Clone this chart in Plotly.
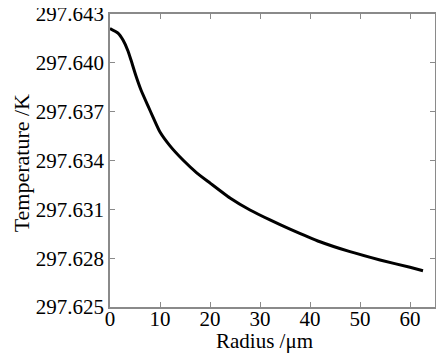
import plotly.graph_objects as go

radius_um = [0, 1.6, 2.6, 3.6, 4.2, 5.2, 6.2, 7.6, 8.6, 10, 12, 14.6, 17.4, 20, 24, 28, 32,
             36, 42, 48, 54, 60, 62.6]
temperature_K = [297.64211, 297.64183, 297.64140, 297.64073, 297.64017, 297.63919, 297.63833,
                 297.63735, 297.63667, 297.63575, 297.63490, 297.63403, 297.63323, 297.63262,
                 297.63170, 297.63096, 297.63035, 297.62979, 297.62901, 297.62840, 297.62789,
                 297.62744, 297.62723]

x_ticks = [0, 10, 20, 30, 40, 50, 60]
y_ticks = [297.625, 297.628, 297.631, 297.634, 297.637, 297.640, 297.643]
y_tick_labels = ["297.625", "297.628", "297.631", "297.634", "297.637", "297.640", "297.643"]
x_title = "Radius /μm"
y_title = "Temperature /K"

font_family = "Liberation Serif, Times New Roman, DejaVu Serif, serif"
axis_color = "#8a8a8a"

fig = go.Figure()
fig.add_trace(go.Scatter(x=radius_um, y=temperature_K, mode="lines",
                         line=dict(color="black", width=3, shape="spline", smoothing=0.5),
                         showlegend=False))

# page body adds an 8px offset; margins compensate for it
fig.update_layout(
    width=444, height=353,
    margin=dict(l=102, r=17, t=6, b=54),
    paper_bgcolor="white", plot_bgcolor="white",
    font=dict(family=font_family, color="black", size=21),
    annotations=[
        dict(text=x_title, xref="paper", yref="paper", x=0.474, y=0, xanchor="center",
             yanchor="middle", yshift=-34, showarrow=False, font=dict(size=21)),
        dict(text=y_title, xref="paper", yref="paper", x=-0.271, y=0.49, xanchor="center",
             yanchor="middle", textangle=-90, showarrow=False, font=dict(size=22)),
    ],
)
fig.update_xaxes(
    range=[0, 65], tickvals=x_ticks, ticks="inside", ticklen=5, tickcolor=axis_color,
    showline=True, linecolor=axis_color, linewidth=1.5, mirror="ticks", showgrid=False,
    zeroline=False, tickfont=dict(size=21), automargin=False, ticklabeloverflow="allow",
    ticklabelstandoff=-8,
)
fig.update_yaxes(
    range=[297.625, 297.643], tickvals=y_ticks, ticktext=y_tick_labels, ticks="inside",
    ticklen=5, tickcolor=axis_color, showline=True, linecolor=axis_color, linewidth=1.5,
    mirror="ticks", showgrid=False, zeroline=False, tickfont=dict(size=21), automargin=False,
    ticklabeloverflow="allow",
)

fig.write_html("out.html")
